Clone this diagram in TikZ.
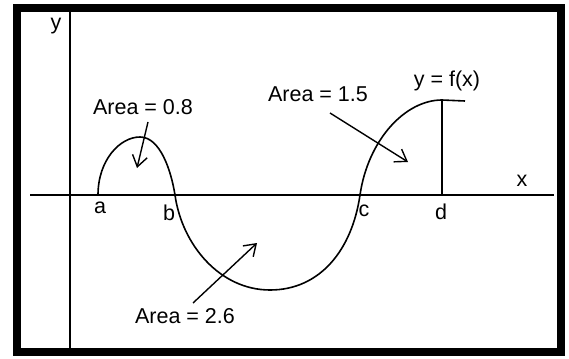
\documentclass[tikz,border=0pt]{standalone}
\usepackage{fontspec}
\setmainfont{Liberation Sans}
\usetikzlibrary{arrows.meta}
\begin{document}
\begin{tikzpicture}[x=1pt,y=-1pt,
  lbl/.style={font=\fontsize{21.5}{24}\selectfont, inner sep=0pt},
  axis/.style={line width=2pt},
  curve/.style={line width=1.6pt},
  ptr/.style={line width=1.4pt, -{Straight Barb[length=11pt,width=15pt,line width=1.4pt]}}]
\useasboundingbox (0,0) rectangle (569,358);
\draw[line width=8pt] (17,8) rectangle (561,352);
% axes
\coordinate (xl) at (30,195);
\coordinate (xr) at (554,195);
\coordinate (yt) at (70,12);
\coordinate (yb) at (70,348);
\draw[axis] (xl) -- (xr);
\draw[axis] (yt) -- (yb);
% curve
\coordinate (A) at (98,195);
\coordinate (B) at (175,195);
\coordinate (C) at (360,195);
\coordinate (D) at (442,195);
\coordinate (P1) at (140,137);
\coordinate (M) at (270,290);
\coordinate (P2) at (442,100);
\coordinate (E) at (465,101);
\draw[curve] (A) .. controls (98,160) and (120,137) .. (P1)
  .. controls (160,137) and (171,170) .. (B)
  .. controls (182,245) and (220,290) .. (M)
  .. controls (320,290) and (352,250) .. (C)
  .. controls (368,140) and (405,100) .. (P2) -- (E);
\draw[axis] (P2) -- (D);
% labels
\node[lbl] (ylab) at (56,26) {y};
\node[lbl] (xlab) at (522,181) {x};
\node[lbl] (alab) at (100,208) {a};
\node[lbl] (blab) at (169,213) {b};
\node[lbl] (clab) at (364,211) {c};
\node[lbl] (dlab) at (441,212) {d};
\node[lbl] (t08) at (143,107) {Area = 0.8};
\node[lbl] (t15) at (318,94) {Area = 1.5};
\node[lbl] (tf) at (447,81) {y = f(x)};
\node[lbl] (t26) at (185,316) {Area = 2.6};
% pointers
\coordinate (s08) at (148,122);
\coordinate (e08) at (137,168);
\coordinate (s15) at (330,113);
\coordinate (e15) at (408,162);
\coordinate (s26) at (193,303);
\coordinate (e26) at (257,243);
\draw[ptr] (s08) -- (e08);
\draw[ptr] (s15) -- (e15);
\draw[ptr] (s26) -- (e26);
\end{tikzpicture}
\end{document}
